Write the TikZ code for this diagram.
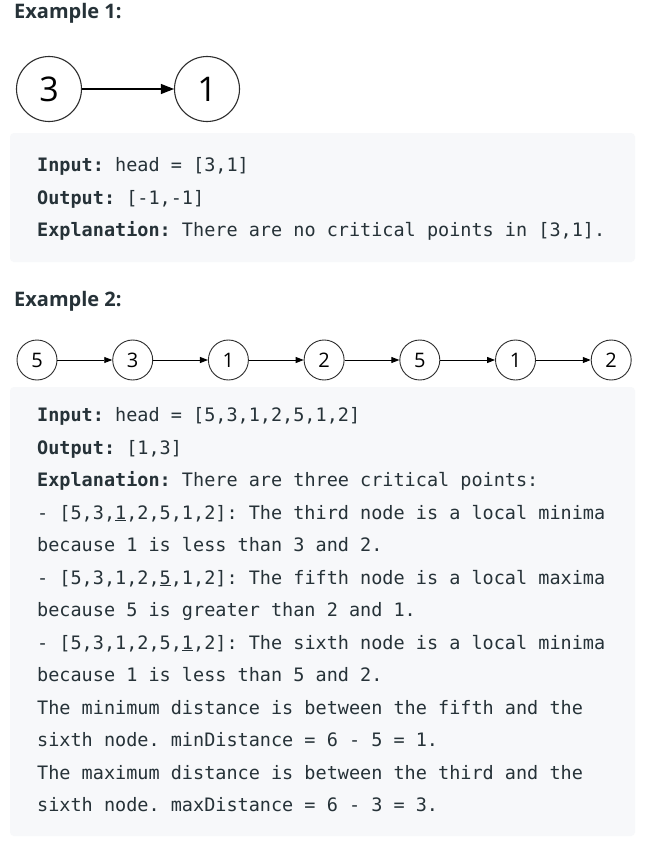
\documentclass[tikz,border=0pt]{standalone}
\usepackage{fontspec}
\setmainfont{Open Sans}
\setmonofont{DejaVu Sans Mono}
\usetikzlibrary{arrows.meta,positioning}
\definecolor{ink}{RGB}{38,50,56}
\definecolor{codebg}{RGB}{247,248,250}
\definecolor{ring}{RGB}{45,45,45}

\begin{document}
\begin{tikzpicture}[x=1pt,y=-1pt,
	title/.style    = {anchor=base west, inner sep=0pt, font=\fontsize{20}{22}\selectfont\bfseries, text=ink},
	codebox/.style  = {fill=codebg, rounded corners=4pt},
	code/.style     = {anchor=base west, inner sep=0pt, font=\fontsize{18.5}{20}\selectfont\ttfamily, text=ink},
	bignum/.style   = {draw=ring, circle, line width=1.1pt, minimum size=65pt, inner sep=0pt, font=\fontsize{34}{36}\selectfont},
	smallnum/.style = {draw=ring, circle, line width=0.9pt, minimum size=40pt, inner sep=0pt, font=\fontsize{20}{22}\selectfont},
	link/.style     = {->, line width=0.9pt},
	>={Triangle[length=8pt,width=6pt]}]
	
	% page and the two grey code boxes
	\fill[white] (0,0) rectangle (653,843);
	\fill[codebox] (10,133) rectangle (635,262);
	\fill[codebox] (10,387) rectangle (635,836);
	
	% example 1: a list of two nodes
	\node[title] (t1) at (14,19) {Example 1:};
	\node[bignum] (a1) at (49,89) {3};
	\node[bignum] (a2) at (207,89) {1};
	\draw[link, line width=1.1pt, >={Triangle[length=13pt,width=10pt]}] (a1) -- (a2);
	
	\node[code] (l11) at (37,171.5) {\textbf{Input:} head = [3,1]};
	\node[code] (l12) at (37,204) {\textbf{Output:} [-1,-1]};
	\node[code] (l13) at (37,236.5) {\textbf{Explanation:} There are no critical points in [3,1].};
	
	% example 2: a list of seven nodes
	\node[title] (t2) at (14,306) {Example 2:};
	\foreach \val [count=\i] in {5,3,1,2,5,1,2}
	\node[smallnum] (b\i) at ({37+95.7*(\i-1)},360) {\val};
	
	\foreach \i [count=\j from 2] in {1,...,6}
	\draw[link] (b\i) -- (b\j);
	
	\node[code] (l21) at (37,421.5) {\textbf{Input:} head = [5,3,1,2,5,1,2]};
	\node[code] (l22) at (37,454) {\textbf{Output:} [1,3]};
	\node[code] (l23) at (37,486.5) {\textbf{Explanation:} There are three critical points:};
	\node[code] (l24) at (37,519) {- [5,3,\underline{1},2,5,1,2]: The third node is a local minima};
	\node[code] (l25) at (37,551.5) {because 1 is less than 3 and 2.};
	\node[code] (l26) at (37,584) {- [5,3,1,2,\underline{5},1,2]: The fifth node is a local maxima};
	\node[code] (l27) at (37,616.5) {because 5 is greater than 2 and 1.};
	\node[code] (l28) at (37,649) {- [5,3,1,2,5,\underline{1},2]: The sixth node is a local minima};
	\node[code] (l29) at (37,681.5) {because 1 is less than 5 and 2.};
	\node[code] (l210) at (37,714) {The minimum distance is between the fifth and the};
	\node[code] (l211) at (37,746.5) {sixth node. minDistance = 6 - 5 = 1.};
	\node[code] (l212) at (37,779) {The maximum distance is between the third and the};
	\node[code] (l213) at (37,811.5) {sixth node. maxDistance = 6 - 3 = 3.};
\end{tikzpicture}
\end{document}
